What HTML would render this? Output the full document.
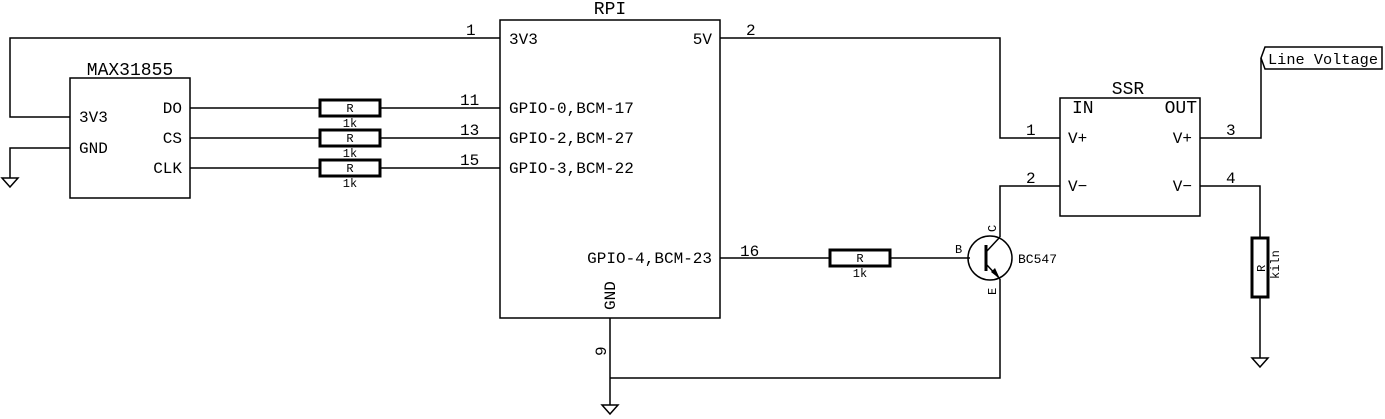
<!DOCTYPE html>
<html><head><style>body{margin:0;background:#fff}svg{display:block}text{font-family:"Liberation Mono",monospace;fill:#000}</style></head><body>
<svg width="1385" height="419" viewBox="0 0 1385 419" xmlns="http://www.w3.org/2000/svg">
<g fill="none" stroke="#000" stroke-width="1.5">
<rect x="500" y="20" width="220" height="298"/>
<rect x="70" y="78" width="120" height="120"/>
<rect x="1060" y="98" width="140" height="118"/>
<polyline points="500,38 10,38 10,117 70,117"/>
<polyline points="70,148 10,148 10,178"/>
<polygon points="2,178 18,178 10,187"/>
<line x1="190" y1="108" x2="320" y2="108"/><line x1="380" y1="108" x2="500" y2="108"/>
<line x1="190" y1="138" x2="320" y2="138"/><line x1="380" y1="138" x2="500" y2="138"/>
<line x1="190" y1="168" x2="320" y2="168"/><line x1="380" y1="168" x2="500" y2="168"/>
<polyline points="720,38 1000,38 1000,138 1060,138"/>
<polyline points="1060,186 1000,186 1000,237"/>
<line x1="720" y1="258" x2="830" y2="258"/><line x1="890" y1="258" x2="970" y2="258"/>
<circle cx="990" cy="258" r="22"/>
<line x1="986" y1="252" x2="1000" y2="237"/>
<line x1="986" y1="264" x2="1000" y2="279"/>
<polyline points="1000,279 1000,378 610,378"/>
<line x1="610" y1="318" x2="610" y2="405"/>
<polygon points="602,405 618,405 610,414"/>
<polyline points="1200,138 1261,138 1261,58"/>
<polyline points="1200,186 1260,186 1260,238"/>
<line x1="1260" y1="297" x2="1260" y2="358"/>
<polygon points="1252,358 1268,358 1260,367"/>
<path d="M1261,58 L1265,47 H1382 V69 H1265 Z"/>
</g>
<g fill="none" stroke="#000" stroke-width="3">
<rect x="320" y="100" width="60" height="16"/>
<rect x="320" y="130" width="60" height="16"/>
<rect x="320" y="160" width="60" height="16"/>
<rect x="830" y="250" width="60" height="16"/>
<rect x="1252" y="238" width="16" height="59"/>
<line x1="986" y1="245" x2="986" y2="271"/>
</g>
<polygon points="1000,279 991,272 995,268" fill="#000"/>
<g font-size="18">
<text x="610" y="14" text-anchor="middle">RPI</text>
<text x="130" y="75" text-anchor="middle">MAX31855</text>
<text x="1128" y="94" text-anchor="middle">SSR</text>
<text x="1072" y="113">IN</text>
<text x="1197" y="113" text-anchor="end">OUT</text>
</g>
<text x="1268" y="64" font-size="15" textLength="110" lengthAdjust="spacingAndGlyphs">Line Voltage</text>
<g font-size="16">
<text x="509" y="44">3V3</text>
<text x="712" y="44" text-anchor="end">5V</text>
<text x="509" y="113">GPIO-0,BCM-17</text>
<text x="509" y="143">GPIO-2,BCM-27</text>
<text x="509" y="173">GPIO-3,BCM-22</text>
<text x="712" y="263" text-anchor="end">GPIO-4,BCM-23</text>
<text x="79" y="122">3V3</text>
<text x="79" y="153">GND</text>
<text x="182" y="113" text-anchor="end">DO</text>
<text x="182" y="143" text-anchor="end">CS</text>
<text x="182" y="173" text-anchor="end">CLK</text>
<text x="1068" y="143">V+</text>
<text x="1192" y="143" text-anchor="end">V+</text>
<text x="1068" y="191">V−</text>
<text x="1192" y="191" text-anchor="end">V−</text>
<text x="466" y="35">1</text>
<text x="460" y="105">11</text>
<text x="460" y="135">13</text>
<text x="460" y="165">15</text>
<text x="746" y="35">2</text>
<text x="740" y="256">16</text>
<text x="1026" y="135">1</text>
<text x="1026" y="183">2</text>
<text x="1226" y="135">3</text>
<text x="1226" y="183">4</text>
<text transform="translate(615,310) rotate(-90)">GND</text>
<text transform="translate(606,356) rotate(-90)">9</text>
</g>
<g font-size="12">
<text x="350" y="112" text-anchor="middle">R</text><text x="350" y="127" text-anchor="middle">1k</text>
<text x="350" y="142" text-anchor="middle">R</text><text x="350" y="157" text-anchor="middle">1k</text>
<text x="350" y="172" text-anchor="middle">R</text><text x="350" y="187" text-anchor="middle">1k</text>
<text x="860" y="262" text-anchor="middle">R</text><text x="860" y="277" text-anchor="middle">1k</text>
<text x="955" y="253">B</text>
<text x="1018" y="263" font-size="13">BC547</text>
<text transform="translate(996,232) rotate(-90)">C</text>
<text transform="translate(996,295) rotate(-90)">E</text>
<text transform="translate(1265,272) rotate(-90)">R</text>
<text transform="translate(1279,279) rotate(-90)">kiln</text>
</g>
</svg>
</body></html>
